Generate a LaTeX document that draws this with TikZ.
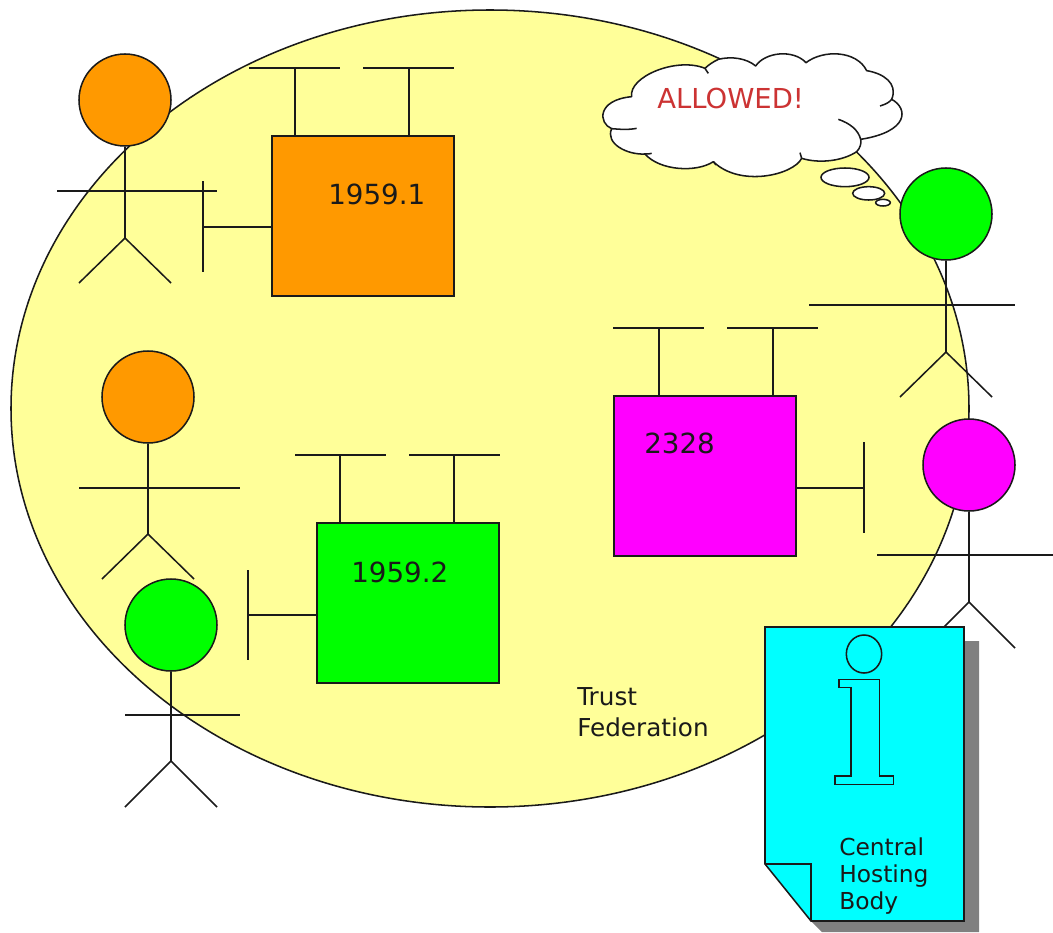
\documentclass[tikz,border=0pt]{standalone}
\usepackage{fontspec}
\usetikzlibrary{shapes.geometric}
\setmainfont{DejaVu Sans}
\definecolor{fedyellow}{HTML}{FFFF99}
\definecolor{sorange}{HTML}{FF9900}
\definecolor{sgreen}{HTML}{00FF00}
\definecolor{smagenta}{HTML}{FF00FF}
\definecolor{scyan}{HTML}{00FFFF}
\definecolor{sred}{HTML}{CC3333}
\definecolor{sline}{HTML}{1A1A1A}
\definecolor{sshadow}{HTML}{808080}
\tikzset{
  lin/.style={draw=sline,line width=1.15pt},
  head/.style={circle,draw=sline,line width=1.15pt,minimum size=69pt,inner sep=0pt},
  sys/.style={rectangle,draw=sline,line width=1.15pt,minimum width=136.5pt,minimum height=120pt,inner sep=0pt},
  lab/.style={inner sep=0pt,anchor=west,text=sline},
  biglab/.style={lab,font=\fontsize{20.8}{24}\selectfont},
  smalllab/.style={lab,font=\fontsize{17.5}{21}\selectfont},
  fedlab/.style={lab,font=\fontsize{18.5}{22}\selectfont}
}
% #1 name, #2 x, #3 y of head centre, #4 colour, #5 arm left, #6 arm right, #7 arm y, #8 hip y, #9 foot y
\newcommand{\stickman}[9]{%
  \node[head,fill=#4] (#1h) at (#2,#3) {};
  \coordinate (#1hip) at (#2,#8);
  \coordinate (#1al) at (#5,#7);
  \coordinate (#1ar) at (#6,#7);
  \coordinate (#1fl) at ({#2-46},#9);
  \coordinate (#1fr) at ({#2+46},#9);
  \draw[lin] (#1h.south) -- (#1hip);
  \draw[lin] (#1al) -- (#1ar);
  \draw[lin] (#1fl) -- (#1hip) -- (#1fr);
}
% #1 name, #2 stem x, #3 bar left, #4 bar right, #5 anchor on box top, #6 bar y
\newcommand{\antenna}[6]{%
  \coordinate (#1a) at (#3,#6);
  \coordinate (#1b) at (#4,#6);
  \coordinate (#1c) at (#2,#6);
  \draw[lin] (#1a) -- (#1b);
  \draw[lin] (#5) -- (#1c);
}
\begin{document}
\begin{tikzpicture}[x=0.75pt,y=-0.75pt]
\useasboundingbox (0,0) rectangle (1053,932);
\fill[white] (0,0) rectangle (1053,932);
\node[ellipse,draw=sline,fill=fedyellow,line width=1.15pt,minimum width=718.5pt,minimum height=597.75pt,inner sep=0pt] (fed) at (490,408.5) {};

% stick figures
\stickman{ua}{125}{100}{sorange}{57}{217}{191}{238}{283}
\stickman{ub}{148}{397}{sorange}{79}{240}{488}{534}{579}
\stickman{uc}{171}{625}{sgreen}{125}{240}{715}{761}{807}
\stickman{ud}{946}{214}{sgreen}{809}{1015}{305}{352}{397}
\stickman{ue}{969}{465}{smagenta}{877}{1053}{555}{602}{648}

% 1959.1
\node[sys,fill=sorange] (sa) at (363,216) {};
\coordinate (sa1) at (295,136); \coordinate (sa2) at (409,136); \coordinate (sa3) at (272,227);
\antenna{saa}{295}{249}{340}{sa1}{68}
\antenna{sab}{409}{363}{454}{sa2}{68}
\coordinate (sat) at (203,181); \coordinate (sao) at (203,272); \coordinate (sam) at (203,227);
\draw[lin] (sat) -- (sao);
\draw[lin] (sa3) -- (sam);
\node[biglab] (sal) at (328,194) {1959.1};

% 1959.2
\node[sys,fill=sgreen] (sb) at (408,603) {};
\coordinate (sb1) at (340,523); \coordinate (sb2) at (454,523); \coordinate (sb3) at (317,615);
\antenna{sba}{340}{295}{386}{sb1}{455}
\antenna{sbb}{454}{409}{500}{sb2}{455}
\coordinate (sbt) at (248,570); \coordinate (sbo) at (248,660); \coordinate (sbm) at (248,615);
\draw[lin] (sbt) -- (sbo);
\draw[lin] (sb3) -- (sbm);
\node[biglab] (sbl) at (351,572) {1959.2};

% 2328
\node[sys,fill=smagenta] (sc) at (705,476) {};
\coordinate (sc1) at (659,396); \coordinate (sc2) at (773,396); \coordinate (sc3) at (796,488);
\antenna{sca}{659}{613}{704}{sc1}{328}
\antenna{scb}{773}{727}{818}{sc2}{328}
\coordinate (sct) at (864,442); \coordinate (sco) at (864,533); \coordinate (scm) at (864,488);
\draw[lin] (sct) -- (sco);
\draw[lin] (sc3) -- (scm);
\node[biglab] (scl) at (644,443) {2328};

\node[fedlab] (tf1) at (577,697) {Trust};
\node[fedlab] (tf2) at (577,727) {Federation};

% thought cloud (coordinates in 1/3 px)
\begin{scope}[shift={(590,40)},x=0.25pt,y=-0.25pt]
\draw[lin,fill=white,line join=round]
  (385,58) .. controls (425,48) and (470,55) .. (497,78)
  .. controls (525,36) and (610,27) .. (648,68)
  .. controls (700,28) and (800,31) .. (830,92)
  .. controls (880,100) and (925,130) .. (905,178)
  .. controls (955,205) and (958,275) .. (812,298)
  .. controls (815,310) and (810,325) .. (800,335)
  .. controls (760,362) and (690,372) .. (635,355)
  .. controls (610,405) and (450,443) .. (370,365)
  .. controls (320,398) and (210,393) .. (165,342)
  .. controls (110,345) and (45,310) .. (65,266)
  .. controls (25,250) and (20,180) .. (125,170)
  .. controls (115,110) and (260,50) .. (345,85)
  .. controls (355,75) and (370,65) .. (385,58) -- cycle;
\draw[lin] (745,238) .. controls (780,250) and (805,270) .. (812,298);
\draw[lin] (870,198) .. controls (890,192) and (900,185) .. (905,178);
\draw[lin] (65,266) .. controls (90,268) and (115,270) .. (140,265);
\draw[lin] (165,342) .. controls (172,342) and (180,342) .. (185,340);
\draw[lin] (345,85) .. controls (347,90) and (352,95) .. (355,100);
\draw[lin] (370,365) -- (378,375);
\draw[lin] (635,355) -- (630,338);
\node[ellipse,draw=sline,fill=white,line width=1.15pt,minimum width=36pt,minimum height=14pt,inner sep=0pt] (bub1) at (765,412) {};
\node[ellipse,draw=sline,fill=white,line width=1.15pt,minimum width=24pt,minimum height=10pt,inner sep=0pt] (bub2) at (836,460) {};
\node[ellipse,draw=sline,fill=white,line width=1.15pt,minimum width=11pt,minimum height=5pt,inner sep=0pt] (bub3) at (879,488) {};
\end{scope}
\node[lab,text=sred,font=\fontsize{20.6}{24}\selectfont] (allowed) at (657,98) {ALLOWED!};

% info document
\fill[sshadow] (964,641) -- (979,641) -- (979,932) -- (822,932) -- (811,921) -- (964,921) -- cycle;
\draw[lin,fill=scyan,line join=miter] (765,627) -- (964,627) -- (964,921) -- (811,921) -- (765,864) -- cycle;
\draw[lin,line join=miter] (765,864) -- (811,864) -- (811,921);
\node[ellipse,draw=sline,line width=1.15pt,minimum width=26.5pt,minimum height=28.5pt,inner sep=0pt] (idot) at (864,654) {};
\draw[lin,line join=miter] (839,679.3) -- (879.3,679.3) -- (879.3,776) -- (893.3,776) -- (893.3,784.3) -- (835,784.3) -- (835,776) -- (851,776) -- (851,687.7) -- (839,687.7) -- cycle;
\node[smalllab] (ch1) at (839,847) {Central};
\node[smalllab] (ch2) at (839,876) {Hosting};
\node[smalllab] (ch3) at (839,903) {Body};
\end{tikzpicture}
\end{document}
